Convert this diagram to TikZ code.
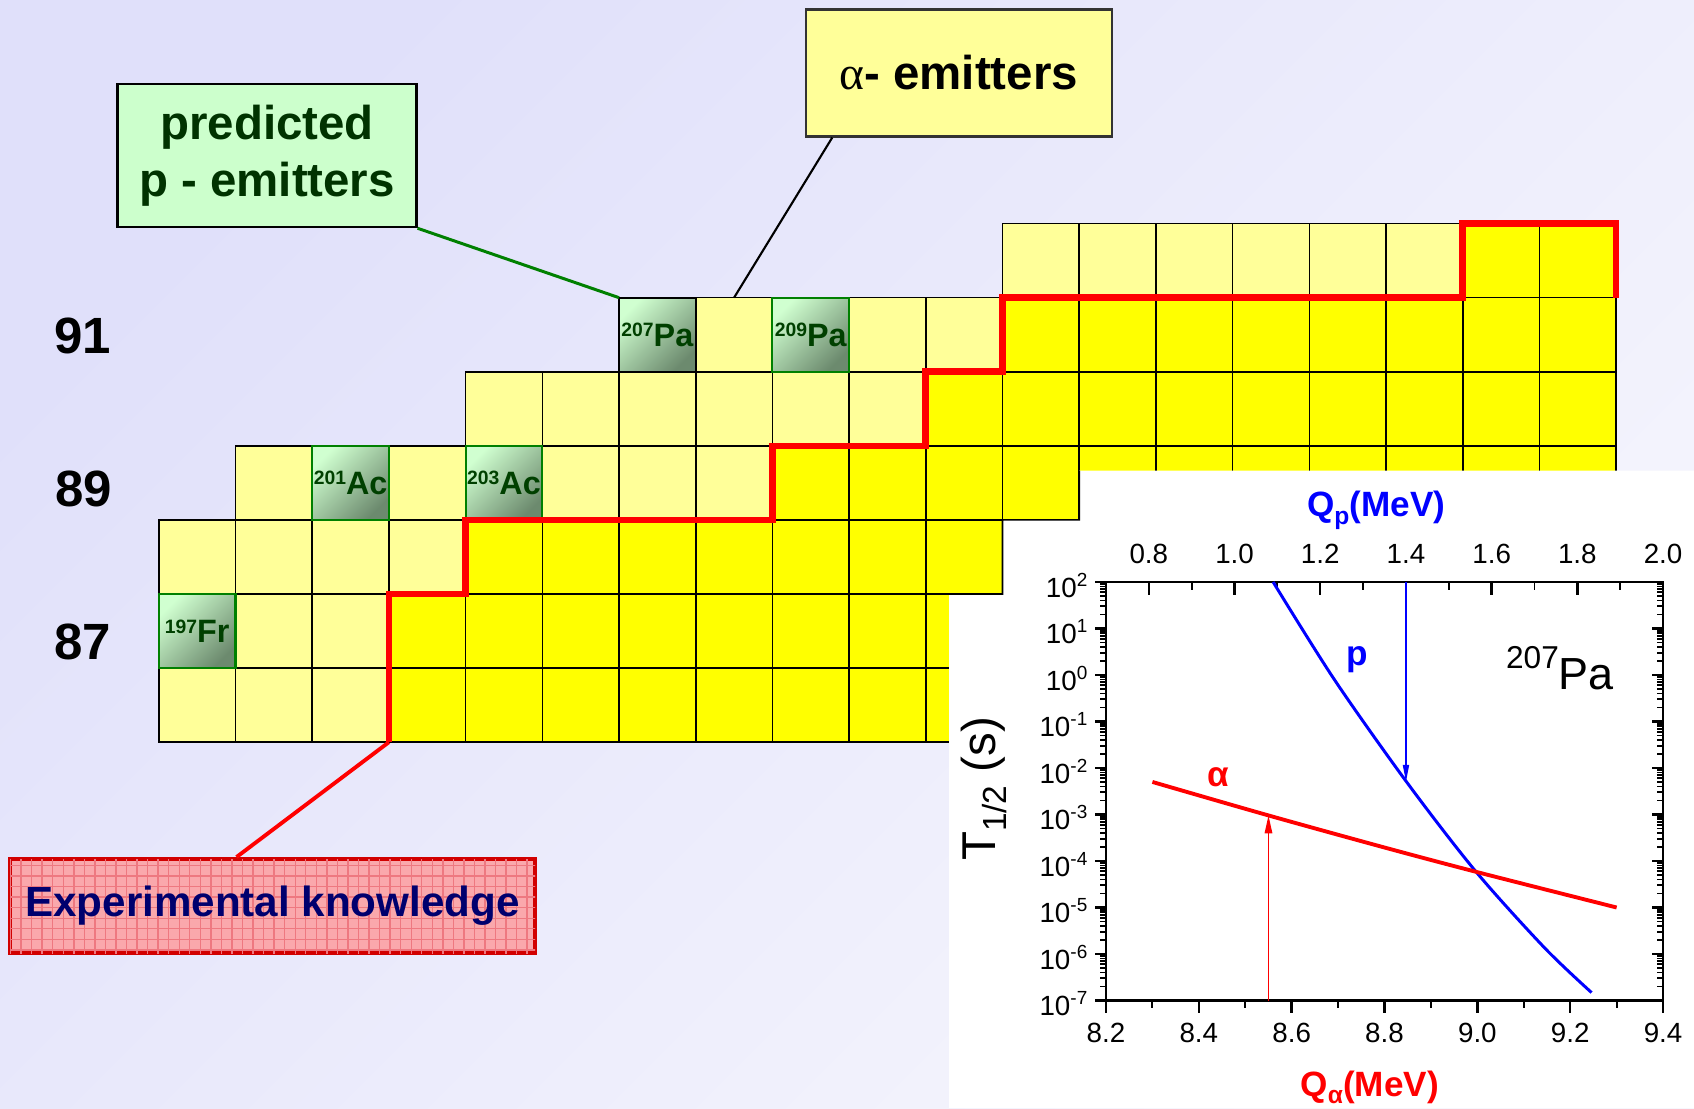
\documentclass[tikz,border=0pt]{standalone}
\usepackage{fontspec}
\setmainfont{Liberation Sans}
\newfontfamily\greekserif{Liberation Serif}
\usepackage{xcolor}
\usepackage{tikz}
\usetikzlibrary{arrows.meta, calc, patterns}

\definecolor{bgtop}{RGB}{224,224,250}
\definecolor{bgbot}{RGB}{246,246,253}
\definecolor{paleyel}{RGB}{255,255,153}
\definecolor{fullyel}{RGB}{255,255,0}
\definecolor{nuclight}{RGB}{208,255,208}
\definecolor{nucdark}{RGB}{108,138,110}
\definecolor{nucedge}{RGB}{0,128,0}
\definecolor{nuctext}{RGB}{0,64,0}
\definecolor{predfill}{RGB}{204,255,204}
\definecolor{predtext}{RGB}{0,51,0}
\definecolor{expfill}{RGB}{250,168,172}
\definecolor{expgrid}{RGB}{238,120,128}
\definecolor{expedge}{RGB}{210,0,0}
\definecolor{exptext}{RGB}{0,0,110}
\definecolor{linkgreen}{RGB}{0,128,0}

\newcommand{\nucl}[2]{\raisebox{2.7pt}{\fontsize{5.5}{6}\selectfont #1}#2}
\newcommand{\tenpow}[1]{10\raisebox{3.1pt}{\fontsize{5.4}{6}\selectfont #1}}

\tikzset{
  cell/.style      = {rectangle, draw=black, line width=0.45pt, inner sep=0pt, outer sep=0pt,
                      minimum width=7.67mm, minimum height=7.408mm},
  cellnuc/.style   = {cell, draw=nucedge, line width=0.6pt, top color=nuclight,
                      bottom color=nucdark, shading angle=45, text=nuctext,
                      font=\fontsize{9.2}{11}\selectfont\bfseries},
  zlabel/.style    = {font=\fontsize{14.5}{17}\selectfont\bfseries},
  predbox/.style   = {rectangle, draw=black, line width=0.6pt, fill=predfill, text=predtext,
                      minimum width=29.9mm, minimum height=14.3mm, align=center,
                      font=\fontsize{13.5}{16.2}\selectfont\bfseries},
  alphabox/.style  = {rectangle, draw=black!80, line width=0.6pt, fill=paleyel,
                      minimum width=30.6mm, minimum height=12.7mm,
                      font=\fontsize{13.5}{16.2}\selectfont\bfseries},
  expbox/.style    = {rectangle, draw=expedge, line width=1.1pt, fill=expfill, text=exptext,
                      minimum width=52.5mm, minimum height=9.4mm,
                      postaction={pattern=grid, pattern color=expgrid},
                      font=\fontsize{12}{14}\selectfont\bfseries},
  stairline/.style = {red, line width=1.9pt},
  frameline/.style = {line width=0.8pt},
  majortick/.style = {line width=0.7pt},
  minortick/.style = {line width=0.55pt},
  ticklab/.style   = {font=\fontsize{7.9}{9}\selectfont, inner sep=0pt},
  pcurve/.style    = {blue, line width=0.85pt},
  acurve/.style    = {red, line width=1.1pt},
  parrow/.style    = {blue, line width=0.45pt, -{Triangle[length=1.7mm, width=0.6mm]}},
  aarrow/.style    = {red, line width=0.45pt, -{Triangle[length=1.8mm, width=0.75mm]}},
}

\begin{document}
\begin{tikzpicture}[x=0.1mm, y=-0.1mm]

    \useasboundingbox (0,0) rectangle (1694,1108);
    \shade[top color=bgtop, bottom color=bgbot, shading angle=45] (0,0) rectangle (1694,1108);

    %% ===================== NUCLIDE CHART =====================
    \foreach \r/\first/\edge in {0/11/17, 1/6/11, 2/4/10, 3/1/8, 4/0/4, 5/0/3, 6/0/3}
      \foreach \c in {\first,...,18} {
        \ifnum\c<\edge \def\cellcol{paleyel}\else\def\cellcol{fullyel}\fi
        \node[cell, fill=\cellcol] (c\r-\c) at ({158.8+76.7*(\c+0.5)}, {223.6+74.08*(\r+0.5)}) {};
      }

    \node[cellnuc, draw=black] (pa207) at (c1-6) {\nucl{207}{Pa}};
    \node[cellnuc]             (pa209) at (c1-8) {\nucl{209}{Pa}};
    \node[cellnuc]             (ac201) at (c3-2) {\nucl{201}{Ac}};
    \node[cellnuc]             (ac203) at (c3-4) {\nucl{203}{Ac}};
    \node[cellnuc]             (fr197) at (c5-0) {\nucl{197}{Fr}};

    \node[zlabel] (z91) at (83,335.5) {91};
    \node[zlabel] (z89) at (84,489)   {89};
    \node[zlabel] (z87) at (83,642)   {87};

    % limit of experimental knowledge
    \draw[stairline] (c6-3.south west) |- (c4-4.south west) |- (c3-8.south west)
         |- (c2-10.south west) |- (c1-11.south west) |- (c0-17.south west)
         |- (c0-18.north east) -- (c0-18.south east);

    %% ===================== HALF-LIFE PLOT =====================
    \fill[white] (949,1108) |- (c4-10.south east) |- (c3-11.south east)
         |- (1694,470.7) -- (1694,1108) -- cycle;
    \draw[line width=0.45pt] (949,594.1) -- (c4-10.south east) |- (c3-11.south east)
         -- (1079.2,470.7);

    \begin{scope}[shift={(110.6mm,-100.05mm)}, x=46.42mm, y=4.65mm]
      % log ticks left (out) and right (in)
      \foreach \d in {0,...,8}
        \foreach \k in {2,...,9} {
          \draw[minortick] (0,{\d+log10(\k)})   -- ++(-0.65mm,0mm);
          \draw[minortick] (1.2,{\d+log10(\k)}) -- ++(-0.65mm,0mm);
        }
      \foreach \d in {0,...,9} {
        \draw[majortick] (0,\d)   -- ++(-1.1mm,0mm);
        \draw[majortick] (1.2,\d) -- ++(-1.1mm,0mm);
      }
      \foreach \e [count=\i] in {-7,...,2}
        \node[ticklab, anchor=base east, xshift=-1.8mm, yshift=-1.5mm] (ly\i) at (0,{\e+7}) {\tenpow{\e}};

      % Q_alpha axis (bottom)
      \foreach \q/\lab [count=\i] in {0/8.2, 0.2/8.4, 0.4/8.6, 0.6/8.8, 0.8/9.0, 1.0/9.2, 1.2/9.4} {
        \draw[majortick] (\q,0) -- ++(0mm,-1.2mm);
        \node[ticklab, yshift=-3.25mm] (bx\i) at (\q,0) {\lab};
      }
      \foreach \q in {0.1,0.3,0.5,0.7,0.9,1.1}
        \draw[minortick] (\q,0) -- ++(0mm,-0.75mm);

      % Q_p axis (top)
      \foreach \p [count=\i] in {0.8,1.0,1.2,1.4,1.6,1.8,2.0} {
        \draw[majortick] ({(\p-0.7)*12/13},9) -- ++(0mm,-1.3mm);
        \node[ticklab, yshift=2.8mm] (tx\i) at ({(\p-0.7)*12/13},9) {\p};
      }
      \foreach \p in {0.9,1.1,1.3,1.5,1.7,1.9}
        \draw[minortick] ({(\p-0.7)*12/13},9) -- ++(0mm,-0.8mm);

      \draw[frameline] (0,0) rectangle (1.2,9);

      % decay curves
      \draw[pcurve] plot[smooth] coordinates {(0.360,9) (0.492,6.90) (0.649,4.68)
            (0.797,2.77) (0.945,1.13) (1.046,0.17)};
      \draw[acurve] plot[smooth] coordinates {(0.1,4.70) (0.35,3.98) (0.6,3.29)
            (0.8,2.76) (1.1,2.0)};

      \coordinate (ptop) at (0.6462,9);
      \coordinate (ptip) at (0.6462,4.70);
      \coordinate (abase) at (0.35,0);
      \coordinate (atip) at (0.35,3.98);
      \draw[parrow] (ptop) -- (ptip);
      \draw[aarrow] (abase) -- (atip);

      \node[blue, font=\fontsize{10}{12}\selectfont\bfseries] (plab) at (0.541,7.32) {p};
      \node[red, font=\fontsize{10}{12}\selectfont\bfseries] (alab) at (0.241,4.80) {α};
      \node[font=\fontsize{12.8}{15}\selectfont] (pa207plot) at (0.978,7.15)
           {\raisebox{5.9pt}{\fontsize{9}{10}\selectfont 207}Pa};

      \node[blue, anchor=base, yshift=6.5mm, font=\fontsize{10}{12}\selectfont\bfseries]
           (qplab) at (0.582,9) {Q\raisebox{-2.2pt}{\fontsize{7}{8}\selectfont p}(MeV)};
      \node[red, anchor=base, yshift=-9.55mm, font=\fontsize{10}{12}\selectfont\bfseries]
           (qalab) at (0.568,0) {Q\raisebox{-2.2pt}{\fontsize{7}{8}\selectfont α}(MeV)};
      \node[rotate=90, font=\fontsize{13.5}{16}\selectfont] (tlab) at (-0.263,4.55)
           {T\raisebox{-3pt}{\fontsize{9.5}{11}\selectfont 1/2} (s)};
    \end{scope}

    %% ===================== LABEL BOXES =====================
    \node[predbox]  (pred) at (267,155.7) {predicted\\p - emitters};
    \node[alphabox] (alph) at (958.7,73)  {{\greekserif\mdseries α}- emitters};
    \node[expbox]   (expk) at (272.5,906) {Experimental knowledge};

    \draw[linkgreen, line width=0.85pt] (pred.south east) -- (c1-6.north west);
    \draw[black, line width=0.6pt] ($(alph.south west)+(27.6,0)$) -- (c1-7.north);
    \draw[red, line width=1.1pt] ($(expk.north)+(-36,0)$) -- (c6-3.south west);

\end{tikzpicture}
\end{document}
